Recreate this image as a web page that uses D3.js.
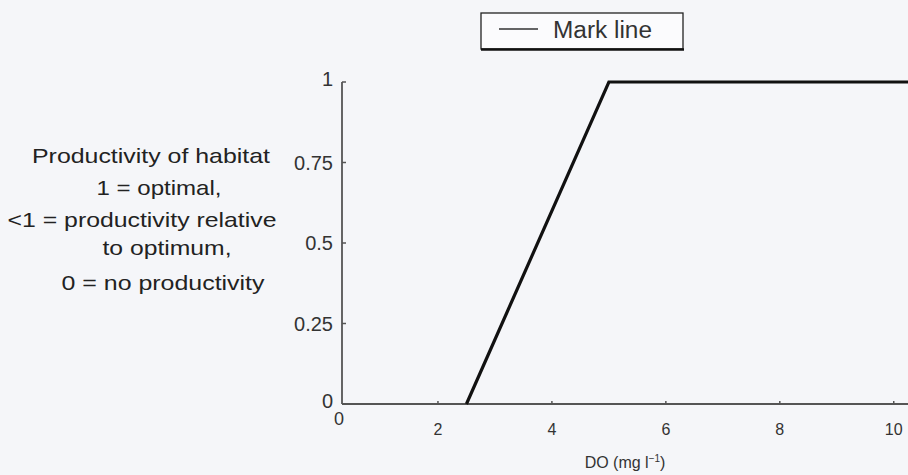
<!DOCTYPE html>
<html><head><meta charset="utf-8">
<script src="https://cdn.jsdelivr.net/npm/d3@7"></script>
<style>body{margin:0;background:#f5f6f9;}svg{display:block;font-family:"Liberation Sans",Arial,sans-serif;}</style>
</head><body><svg id="c" width="908" height="475"></svg>
<script>
const doValues = [2.5, 5, 10.5];
const productivity = [0, 1, 1];
const xTicks = [2, 4, 6, 8, 10];
const yTicks = [0, 0.25, 0.5, 0.75, 1];
const yTickLabels = ["0", "0.25", "0.5", "0.75", "1"];
const seriesName = "Mark line";
const sideText = ["Productivity of habitat", "1 = optimal,", "<1 = productivity relative", "to optimum,", "0 = no productivity"];

const svg = d3.select("#c");
const x = d3.scaleLinear().domain([0, 10.25]).range([324, 908]);
const y = d3.scaleLinear().domain([0, 1]).range([404, 82]);
const axisX = 342;
const axisCol = "#555";

const g = svg.append("g");
g.append("line").attr("x1", axisX).attr("x2", 908).attr("y1", y(0)).attr("y2", y(0)).attr("stroke", axisCol).attr("stroke-width", 1.8);
g.append("line").attr("x1", axisX).attr("x2", axisX).attr("y1", y(0)).attr("y2", y(1)).attr("stroke", axisCol).attr("stroke-width", 1.8);

yTicks.forEach((t, i) => {
  g.append("line").attr("x1", axisX).attr("x2", axisX + 4).attr("y1", y(t)).attr("y2", y(t)).attr("stroke", axisCol).attr("stroke-width", 1.5);
  g.append("text").attr("x", 333).attr("y", y(t) + (t === 0 ? 4 : (t === 1 ? 4 : 7))).attr("text-anchor", "end")
    .attr("font-size", 20).attr("fill", "#333").text(yTickLabels[i]);
});
g.append("text").attr("x", axisX - 3).attr("y", 425).attr("text-anchor", "middle")
  .attr("font-size", 18).attr("fill", "#333").text("0");
xTicks.forEach(t => {
  g.append("line").attr("x1", x(t)).attr("x2", x(t)).attr("y1", y(0)).attr("y2", y(0) - 3).attr("stroke", axisCol).attr("stroke-width", 1.5);
  g.append("text").attr("x", x(t)).attr("y", 435).attr("text-anchor", "middle")
    .attr("font-size", 16).attr("fill", "#333").text(t);
});
const xl = g.append("text").attr("x", 625).attr("y", 468).attr("text-anchor", "middle").attr("font-size", 16).attr("fill", "#333");
xl.append("tspan").text("DO (mg l");
xl.append("tspan").attr("dy", -6).attr("font-size", 10).text("−1");
xl.append("tspan").attr("dy", 6).text(")");

const pts = doValues.map((d, i) => [d, productivity[i]]);
svg.append("path").datum(pts)
  .attr("d", d3.line().x(d => x(d[0])).y(d => y(d[1])))
  .attr("fill", "none").attr("stroke", "#111").attr("stroke-width", 3.2).attr("stroke-linejoin", "miter");

const sideX = [151, 159, 142, 167, 163];
const sideY = [163, 195, 227, 255, 290];
const sideW = [238, 125, 269, 129, 203];
sideText.forEach((s, i) => {
  svg.append("text").attr("x", sideX[i]).attr("y", sideY[i]).attr("text-anchor", "middle")
    .attr("font-size", 21).attr("fill", "#222")
    .attr("textLength", sideW[i]).attr("lengthAdjust", "spacingAndGlyphs").text(s);
});

const lg = svg.append("g");
lg.append("rect").attr("x", 481).attr("y", 13).attr("width", 202).attr("height", 36).attr("fill", "#fbfbfd").attr("stroke", "#222").attr("stroke-width", 1.3);
lg.append("line").attr("x1", 481).attr("x2", 684).attr("y1", 49.5).attr("y2", 49.5).attr("stroke", "#111").attr("stroke-width", 2.5);
lg.append("line").attr("x1", 499).attr("x2", 538).attr("y1", 29).attr("y2", 29).attr("stroke", "#333").attr("stroke-width", 1.3);
lg.append("text").attr("x", 553).attr("y", 38).attr("font-size", 23).attr("fill", "#333")
  .attr("textLength", 99).attr("lengthAdjust", "spacingAndGlyphs").text(seriesName);
</script></body></html>
